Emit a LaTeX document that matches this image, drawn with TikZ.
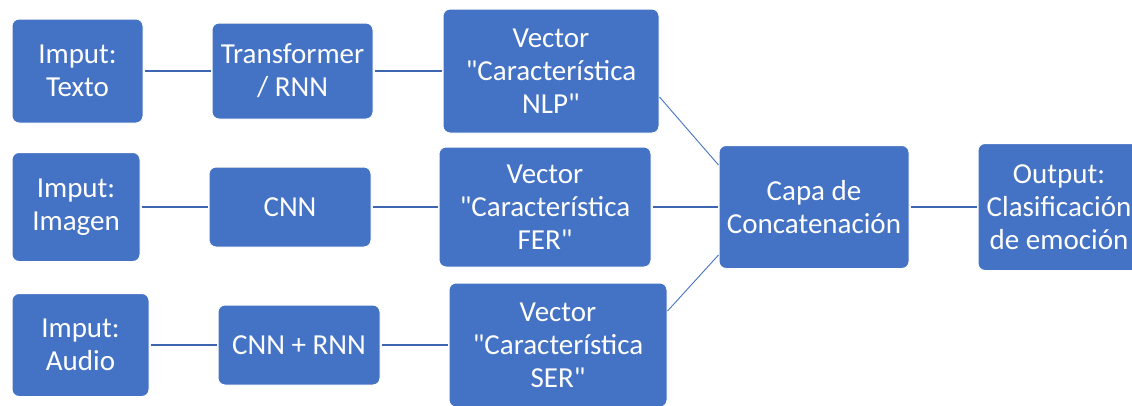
\documentclass[tikz,border=0pt]{standalone}
\usepackage{fontspec}
\setmainfont{Carlito}[Ligatures=TeXOff]
\definecolor{azul}{HTML}{4472C4}
\definecolor{azullinea}{HTML}{3D65B0}

\begin{document}
\begin{tikzpicture}[x=1pt,y=-1pt,
    caja/.style={rectangle, rounded corners=7pt, fill=azul, draw=white, line width=1pt,
      text=white, align=center, inner sep=0pt, font=\fontsize{29}{33}\selectfont},
    linea/.style={azullinea, line width=2pt, shorten <=1pt, shorten >=1pt},
    diagonal/.style={azul, line width=0.9pt}]
    \useasboundingbox (0,0) rectangle (1132,405);
    % fila de texto
    \node(TextIn)  [caja, minimum width=131pt, minimum height=104pt] at (77.5,71)  {Imput:\\Texto};
    \node(Trans)   [caja, minimum width=161pt, minimum height=96pt]  at (292.5,71) {Transformer\\/ RNN};
    \node(NLP)     [caja, minimum width=216pt, minimum height=124pt] at (551,71)   {Vector\\"Característica\\NLP"};
    % fila de imagen
    \node(ImgIn)   [caja, minimum width=128pt, minimum height=109pt] at (76,207)   {Imput:\\Imagen};
    \node(CNN)     [caja, minimum width=162pt, minimum height=80pt]  at (290,207)  {CNN};
    \node(FER)     [caja, minimum width=212pt, minimum height=120pt] at (545,207)  {Vector\\"Característica\\FER"};
    % fila de audio
    \node(AudIn)   [caja, minimum width=137pt, minimum height=103pt] at (80.5,345) {Imput:\\Audio};
    \node(CRNN)    [caja, minimum width=162pt, minimum height=80pt]  at (299,345)  {CNN + RNN};
    \node(SER)     [caja, minimum width=218pt, minimum height=124pt] at (558,345)  {Vector\\"Característica\\SER"};
    % salida
    \node(Concat)  [caja, minimum width=190pt, minimum height=123pt] at (814,207)  {Capa de\\Concatenación};
    \node(Out)     [caja, minimum width=162pt, minimum height=127pt] at (1059,207) {Output:\\Clasificación\\de emoción};
    \draw[linea](TextIn) -- (Trans);
    \draw[linea](Trans)  -- (NLP);
    \draw[linea](ImgIn)  -- (CNN);
    \draw[linea](CNN)    -- (FER);
    \draw[linea](AudIn)  -- (CRNN);
    \draw[linea](CRNN)   -- (SER);
    \draw[linea](FER)    -- (Concat);
    \draw[linea](Concat) -- (Out);
    \draw[diagonal]([yshift=-26pt]NLP.east) -- ([yshift=42pt]Concat.west);
    \draw[diagonal]([yshift=34pt]SER.east)  -- ([yshift=-48pt]Concat.west);
\end{tikzpicture}
\end{document}
